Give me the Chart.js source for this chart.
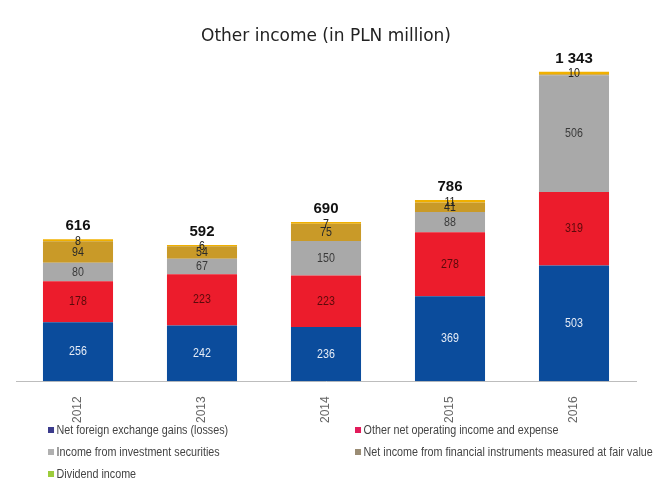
<!DOCTYPE html>
<html>
<head>
<meta charset="utf-8">
<script src="https://cdn.jsdelivr.net/npm/chart.js@4/dist/chart.umd.min.js"></script>
<style>
  html, body { margin: 0; padding: 0; background: #fff; }
  #wrap { position: relative; width: 661px; height: 490px; }
  canvas { position: absolute; left: 0; top: 0; }
  .lg { position: absolute; font-family: "Liberation Sans", Arial, sans-serif; font-size: 12.5px; color: #444; white-space: nowrap; line-height: 14px; transform: scaleX(0.86); transform-origin: 0 50%; }
  .lg i { display: inline-block; width: 7px; height: 6px; margin-right: 3px; vertical-align: 1px; }
</style>
</head>
<body>
<div id="wrap">
  <canvas id="c" width="661" height="490"></canvas>
  <div id="legend"></div>
</div>
<script>
const years = ["2012", "2013", "2014", "2015", "2016"];
const fxGains = [256, 242, 236, 369, 503];
const otherOperating = [178, 223, 223, 278, 319];
const investmentSecurities = [80, 67, 150, 88, 506];
const fairValue = [94, 54, 75, 41, 5];
const dividends = [8, 6, 7, 11, 10];
const totals = [616, 592, 690, 786, 1343];
const totalLabels = ["616", "592", "690", "786", "1 343"];
const seriesNames = [
  "Net foreign exchange gains (losses)",
  "Other net operating income and expense",
  "Income from investment securities",
  "Net income from financial instruments measured at fair value",
  "Dividend income"
];

const barColors = ["#0b4c9c", "#ec1c2c", "#a9a9a9", "#c99a28", "#f0b000"];
const legendColors = ["#3b3b8c", "#e21b5a", "#b0b0b0", "#9a8c74", "#9ccc3c"];
const labelColors = ["#e6ecf6", "#5a0a0a", "#3a3a3a", "#2a2a2a", "#222"];
const seriesData = [fxGains, otherOperating, investmentSecurities, fairValue, dividends];

const datasets = seriesData.map((d, i) => ({
  label: seriesNames[i],
  data: d,
  backgroundColor: barColors[i],
  borderWidth: 0,
  barPercentage: 0.565,
  categoryPercentage: 1.0
}));

const labelPlugin = {
  id: 'segLabels',
  afterDatasetsDraw(chart) {
    const ctx = chart.ctx;
    ctx.save();
    ctx.textAlign = 'center';
    ctx.textBaseline = 'middle';
    chart.data.datasets.forEach((ds, di) => {
      const meta = chart.getDatasetMeta(di);
      meta.data.forEach((bar, j) => {
        const v = ds.data[j];
        if (v <= 5) return;
        const yMid = (bar.y + bar.base) / 2;
        ctx.save();
        ctx.translate(bar.x, di === 4 ? bar.y + 2 : yMid);
        ctx.scale(0.82, 1);
        ctx.font = '13px "Liberation Sans", Arial, sans-serif';
        ctx.fillStyle = labelColors[di];
        ctx.fillText(String(v), 0, 0);
        ctx.restore();
      });
    });
    // totals
    const lastMeta = chart.getDatasetMeta(chart.data.datasets.length - 1);
    ctx.font = 'bold 15px "Liberation Sans", Arial, sans-serif';
    ctx.fillStyle = '#111';
    ctx.textBaseline = 'alphabetic';
    lastMeta.data.forEach((bar, j) => {
      const yTop = chart.scales.y.getPixelForValue(totals[j]);
      ctx.fillText(totalLabels[j], bar.x, yTop - 9);
    });
    ctx.restore();
  }
};

new Chart(document.getElementById('c'), {
  type: 'bar',
  data: { labels: years, datasets },
  options: {
    responsive: false,
    devicePixelRatio: 1,
    animation: false,
    layout: { padding: { left: 16, right: 25, top: 0, bottom: 60 } },
    plugins: {
      legend: { display: false },
      tooltip: { enabled: false },
      title: {
        display: true,
        text: 'Other income (in PLN million)',
        color: '#222',
        font: { family: '"DejaVu Sans", Verdana, sans-serif', size: 17, weight: 'normal' },
        padding: { top: 26, bottom: 7 }
      }
    },
    scales: {
      x: {
        stacked: true,
        grid: { display: false },
        border: { display: true, color: '#bdbdbd', width: 1 },
        ticks: {
          minRotation: 90, maxRotation: 90,
          color: '#666',
          font: { family: '"Liberation Sans", Arial, sans-serif', size: 12 },
          padding: 7
        }
      },
      y: {
        stacked: true,
        display: false,
        min: 0,
        max: 1423
      }
    }
  },
  plugins: [labelPlugin]
});

// HTML legend
const legendPos = [
  [48, 423], [355, 423],
  [48, 445], [355, 445],
  [48, 467]
];
const lg = document.getElementById('legend');
seriesNames.forEach((name, i) => {
  const d = document.createElement('div');
  d.className = 'lg';
  d.style.left = legendPos[i][0] + 'px';
  d.style.top = legendPos[i][1] + 'px';
  d.innerHTML = '<i style="background:' + legendColors[i] + '"></i>';
  d.appendChild(document.createTextNode(name));
  lg.appendChild(d);
});
</script>
</body>
</html>
